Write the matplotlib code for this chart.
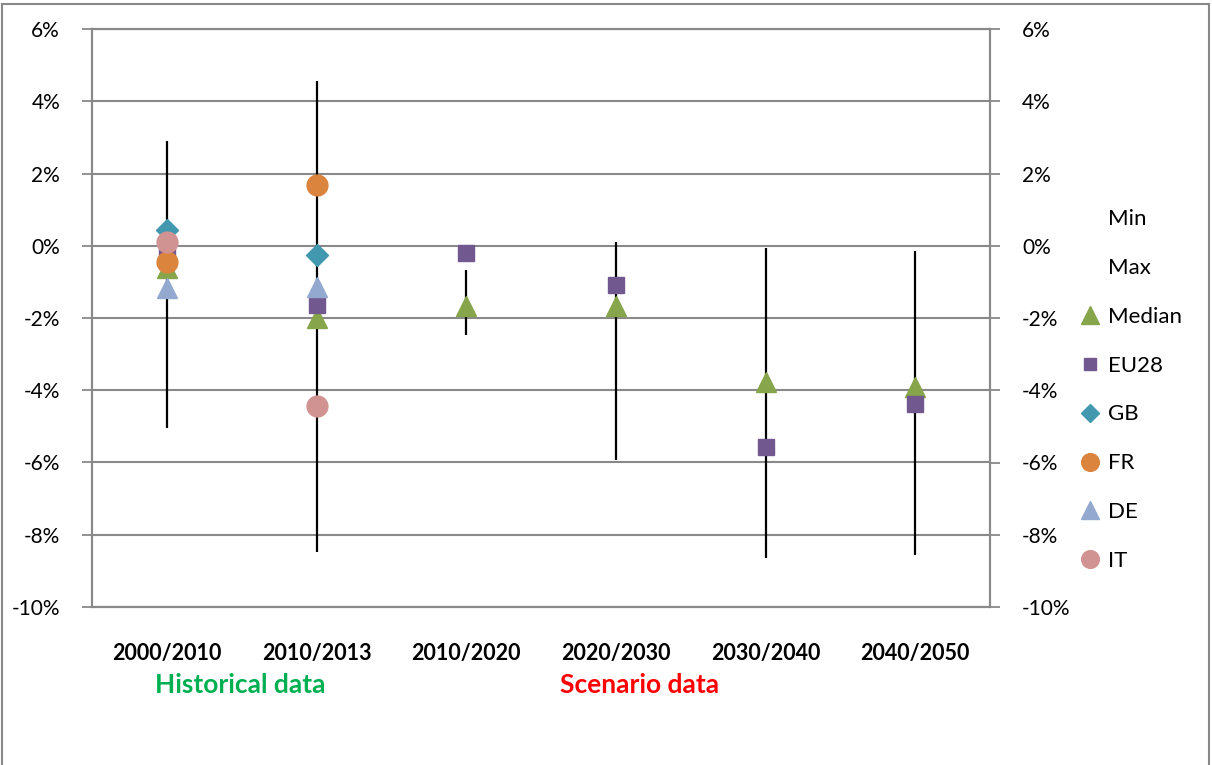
import numpy as np
import matplotlib
matplotlib.use('Agg')
import matplotlib.pyplot as plt
from matplotlib.lines import Line2D
from matplotlib.patches import Rectangle
from matplotlib.ticker import FuncFormatter

plt.rcParams['font.family'] = ['Lato', 'DejaVu Sans']

# %% data (growth rates in %)
periods = ['2000/2010', '2010/2013', '2010/2020', '2020/2030', '2030/2040', '2040/2050']
min_vals = [-5.05, -8.48, -2.48, -5.93, -8.63, -8.57]
max_vals = [2.90, 4.56, -0.67, 0.09, -0.06, -0.14]
median = [-0.62, -2.0, -1.68, -1.68, -3.76, -3.92]
eu28 = [-0.1, -1.64, -0.19, -1.09, -5.56, -4.38]
gb = [0.43, -0.25, np.nan, np.nan, np.nan, np.nan]
fr = [-0.44, 1.68, np.nan, np.nan, np.nan, np.nan]
de = [-1.17, -1.13, np.nan, np.nan, np.nan, np.nan]
it = [0.11, -4.44, np.nan, np.nan, np.nan, np.nan]
yticks = [6, 4, 2, 0, -2, -4, -6, -8, -10]

grey = '#898989'
x = np.arange(len(periods))

# %%
fig = plt.figure(figsize=(12.12, 7.65), dpi=100)
ax = fig.add_axes([92/1212, 158/765, 898/1212, 578/765])

ax.vlines(x, min_vals, max_vals, color='black', lw=1.6, zorder=2)

series = [
    ('Median', median, '^', '#87A54B', 15),
    ('EU28', eu28, 's', '#71588F', 11),
    ('GB', gb, 'D', '#4198AF', 11),
    ('FR', fr, 'o', '#DB843D', 15),
    ('DE', de, '^', '#93A9CF', 15),
    ('IT', it, 'o', '#D19392', 15),
]
handles = [Line2D([], [], ls='none', marker=None, label='Min'),
           Line2D([], [], ls='none', marker=None, label='Max')]
for name, vals, mk, col, ms in series:
    ax.plot(x, vals, ls='none', marker=mk, ms=ms, color=col, mec=col, zorder=3)
    handles.append(Line2D([], [], ls='none', marker=mk, ms=ms * 0.85, color=col, label=name))

ax.set_xlim(-0.5, len(periods) - 0.5)
ax.set_ylim(-10, 6)
ax.set_yticks(yticks)
fmt = FuncFormatter(lambda v, p: f'{v:.0f}%')
ax.yaxis.set_major_formatter(fmt)
ax.yaxis.grid(True, color=grey, lw=1.5)
ax.set_axisbelow(True)
ax.set_xticks(x)
ax.set_xticklabels(periods, fontsize=15.5, fontweight='bold')
ax.tick_params(axis='x', length=0, pad=26)
ax.tick_params(axis='y', length=7, width=1.3, color=grey, labelsize=15, pad=16)
for s in ax.spines.values():
    s.set_color(grey)
    s.set_linewidth(1.5)

ax2 = ax.twinx()
ax2.set_ylim(-10, 6)
ax2.set_yticks(yticks)
ax2.yaxis.set_major_formatter(fmt)
ax2.tick_params(axis='y', length=7, width=1.3, color=grey, labelsize=15, pad=16)
for s in ax2.spines.values():
    s.set_color(grey)
    s.set_linewidth(1.5)

fig.text(240/1212, 1 - 685/765, 'Historical data', color='#00B050', fontsize=19,
         fontweight='bold', ha='center', va='center')
fig.text(640/1212, 1 - 685/765, 'Scenario data', color='#FF0000', fontsize=19,
         fontweight='bold', ha='center', va='center')

fig.legend(handles=handles, loc='upper left', bbox_to_anchor=(1072/1212, 1 - 200/765),
           frameon=False, fontsize=16, labelspacing=1.3, handlelength=0.8,
           handletextpad=0.4, borderaxespad=0)

fig.add_artist(Rectangle((2/1212, -0.02), 1207/1212, 1.02 - 4/765, transform=fig.transFigure,
                         fill=False, edgecolor=grey, lw=1.5))

fig.savefig('out.png', dpi=100)
